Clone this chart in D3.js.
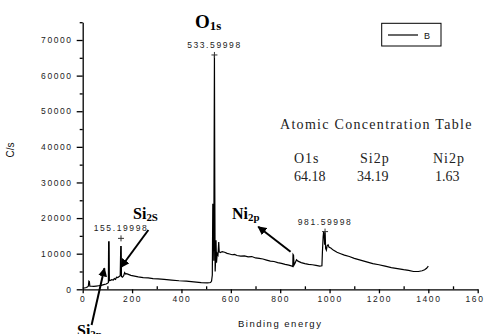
<!DOCTYPE html>
<html><head><meta charset="utf-8">
<script src="https://cdn.jsdelivr.net/npm/d3@7"></script>
<style>
html,body{margin:0;padding:0;background:#fff;}
svg{display:block;}
</style></head>
<body>
<svg id="chart" width="484" height="334"></svg>
<script>
// ---- data ----
const energy = [0,8,15,20,23,25,27,29,35,45,55,65,75,85,95,102,104,105,107,108,112,118,124,128,133,137,142,148,152,154,156,157,161,166,170,174,178,185,195,210,225,245,265,285,305,330,360,390,420,450,480,505,518,522,525,527,529,531,533.6,535,536.5,538,540,542,545,548,551,553,558,565,575,585,595,605,615,625,640,655,670,685,700,715,730,745,760,775,790,805,820,835,848,851,852,854,856,860,866,872,885,900,915,930,945,960,969,971,974,976,978,980,982,984,987,990,994,998,1005,1015,1030,1045,1060,1080,1100,1125,1150,1175,1200,1225,1250,1275,1300,1320,1340,1360,1375,1385,1393,1400];
const counts = [350,400,500,700,900,2300,2200,900,850,800,900,1000,1100,1300,1500,1800,1900,13300,13300,2400,2500,2700,2600,3000,2800,3400,3300,3600,3800,12000,12000,3600,3400,3800,4700,4300,4400,4200,3900,3700,3500,3300,3200,3000,2900,2800,2600,2400,2300,2100,1900,1800,1900,2300,4000,24000,23000,8000,65800,30000,5000,7500,13800,7500,10000,9600,13300,10500,10300,10600,10400,10100,9900,9700,9800,9500,9300,9400,9100,9200,8800,8700,8500,8200,7900,7800,7500,7300,7000,6800,6500,6400,9800,9600,6800,7300,8300,7900,7500,7200,7000,6900,6700,6500,6600,10500,14800,16200,15500,12500,16000,11500,11000,12200,12500,11800,11600,11000,10400,10000,9600,9200,8700,8200,7700,7200,6900,6500,6100,5800,5500,5300,5000,5000,5200,5500,5900,6500];

const peakX = [533.59998, 155.19998, 981.59998];
const peakY = [65800, 14300, 16200];
const peakText = ["533.59998", "155.19998", "981.59998"];

const xTicks = [0,200,400,600,800,1000,1200,1400,1600];
const xMinor = [100,300,500,700,900,1100,1300,1500];
const yTicks = [0,10000,20000,30000,40000,50000,60000,70000];
const yMinor = [5000,15000,25000,35000,45000,55000,65000,75000];

const tableTitle = "Atomic Concentration Table";
const tableElements = ["O1s","Si2p","Ni2p"];
const tableValues = ["64.18","34.19","1.63"];

const xTitle = "Binding energy";
const yTitle = "C/s";
const seriesName = "B";

const annLabels = [
  {main:"O", sub:"1s", E:455, C:73300, size:19},
  {main:"Si", sub:"2S", E:204, C:19750, size:16},
  {main:"Ni", sub:"2p", E:605, C:19750, size:16},
  {main:"Si", sub:"2p", E:-23, C:-13000, size:16}
];
const annArrows = [
  {x1:266, y1:16650, x2:155, y2:6200},
  {x1:36, y1:-10000, x2:88, y2:5900},
  {x1:842, y1:10560, x2:711, y2:17580}
];

// ---- chart ----
const svg = d3.select("#chart");
const x = d3.scaleLinear().domain([0,1600]).range([82.7,477.7]);
const y = d3.scaleLinear().domain([0,75000]).range([289.3,22.2]);

const tickFont = "Liberation Sans, Arial, sans-serif";
const fmt = d3.format("d");

const gx = svg.append("g").attr("transform",`translate(0,${y(0)})`)
  .call(d3.axisBottom(x).tickValues(xTicks).tickSizeInner(4).tickSizeOuter(0).tickPadding(3).tickFormat(fmt));
const gxm = svg.append("g").attr("transform",`translate(0,${y(0)})`)
  .call(d3.axisBottom(x).tickValues(xMinor).tickSizeInner(-3).tickSizeOuter(0).tickFormat(""));
gxm.select(".domain").remove();
const gy = svg.append("g").attr("transform",`translate(${x(0)},0)`)
  .call(d3.axisLeft(y).tickValues(yTicks).tickSizeInner(6).tickSizeOuter(0).tickPadding(4).tickFormat(fmt));
const gym = svg.append("g").attr("transform",`translate(${x(0)},0)`)
  .call(d3.axisLeft(y).tickValues(yMinor).tickSizeInner(3).tickSizeOuter(0).tickFormat(""));
gym.select(".domain").remove();

[gx,gxm,gy,gym].forEach(g=>{
  g.selectAll("path,line").attr("stroke","#000").attr("stroke-width",1.3);
  g.selectAll("text").attr("font-family",tickFont).attr("font-size","8.5px")
    .attr("letter-spacing","1.6px").attr("fill","#222");
});

svg.append("text").attr("x",(x(0)+x(1600))/2).attr("y",327)
  .attr("text-anchor","middle").attr("font-family",tickFont).attr("font-size","9.5px")
  .attr("letter-spacing","1.5px").attr("fill","#111").text(xTitle);
svg.append("text").attr("transform","translate(14,150) rotate(-90)")
  .attr("text-anchor","middle").attr("font-family",tickFont).attr("font-size","10px")
  .attr("fill","#111").text(yTitle);

const line = d3.line().x((d,i)=>x(energy[i])).y((d,i)=>y(counts[i]));
svg.append("path").datum(counts).attr("d",line)
  .attr("fill","none").attr("stroke","#000").attr("stroke-width",1.2).attr("stroke-linejoin","miter");

peakX.forEach((px,i)=>{
  const cx = x(px), cy = y(peakY[i]);
  svg.append("path").attr("d",`M${cx-3},${cy}H${cx+3}M${cx},${cy-3}V${cy+3}`)
    .attr("stroke","#333").attr("stroke-width",1);
  svg.append("text").attr("x",cx).attr("y",cy-7).attr("text-anchor","middle")
    .attr("font-family",tickFont).attr("font-size","8.5px").attr("letter-spacing","1.6px")
    .attr("fill","#222").text(peakText[i]);
});

const lg = svg.append("g");
lg.append("rect").attr("x",381.7).attr("y",23.3).attr("width",59.3).attr("height",22.7)
  .attr("fill","#fff").attr("stroke","#000").attr("stroke-width",1);
lg.append("line").attr("x1",388).attr("x2",418).attr("y1",35).attr("y2",35)
  .attr("stroke","#000").attr("stroke-width",1.2);
lg.append("text").attr("x",424).attr("y",38.5).attr("font-family",tickFont)
  .attr("font-size","9px").attr("fill","#111").text(seriesName);

const serif = "Liberation Serif, 'Times New Roman', serif";
svg.append("text").attr("x",280).attr("y",129).attr("font-family",serif)
  .attr("font-size","14px").attr("letter-spacing","1.3px").attr("fill","#222").text(tableTitle);
const colX = [294,360,433];
tableElements.forEach((t,i)=>{
  svg.append("text").attr("x",colX[i]).attr("y",163).attr("font-family",serif)
    .attr("font-size","14px").attr("letter-spacing","1px").attr("fill","#222").text(t);
  svg.append("text").attr("x",colX[i]+(i===1?-3:0)+(i===2?2:0)).attr("y",181).attr("font-family",serif)
    .attr("font-size","14px").attr("fill","#222").text(tableValues[i]);
});

annLabels.forEach(a=>{
  const t = svg.append("text").attr("x",x(a.E)).attr("y",y(a.C))
    .attr("font-family",serif).attr("font-weight","bold").attr("font-size",a.size+"px").attr("fill","#000");
  t.append("tspan").text(a.main);
  t.append("tspan").attr("font-size",(a.size*0.68)+"px").attr("dy","2").text(a.sub);
});

const defs = svg.append("defs");
defs.append("marker").attr("id","ah").attr("viewBox","0 0 10 10").attr("refX",9).attr("refY",5)
  .attr("markerWidth",4.5).attr("markerHeight",4.5).attr("orient","auto").attr("markerUnits","strokeWidth")
  .append("path").attr("d","M0,0L10,5L0,10z").attr("fill","#000");
annArrows.forEach(a=>{
  svg.append("line").attr("x1",x(a.x1)).attr("y1",y(a.y1)).attr("x2",x(a.x2)).attr("y2",y(a.y2))
    .attr("stroke","#000").attr("stroke-width",2).attr("marker-end","url(#ah)");
});
</script>
</body></html>
